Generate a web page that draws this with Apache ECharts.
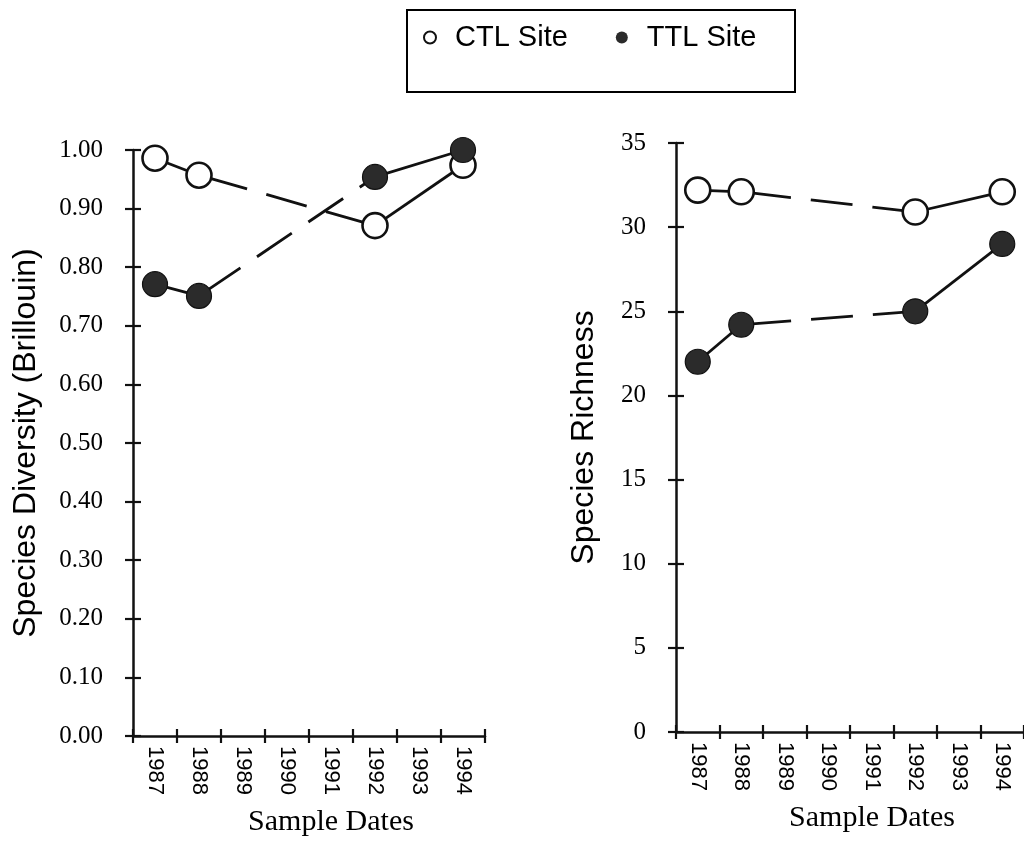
<!DOCTYPE html>
<html>
<head>
<meta charset="utf-8">
<script src="https://cdn.jsdelivr.net/npm/echarts@6/dist/echarts.min.js"></script>
<style>
html,body{margin:0;padding:0;background:#fff;}
#chart{width:1024px;height:844px;}
</style>
</head>
<body>
<div id="chart"></div>
<script>
// ---- data ----
const years = ['1987', '1988', '1989', '1990', '1991', '1992', '1993', '1994'];
const ctlDiversity = [0.986, 0.957, null, null, null, 0.871, null, 0.974];
const ttlDiversity = [0.771, 0.751, null, null, null, 0.954, null, 1.000];
const ctlRichness = [32.2, 32.1, null, null, null, 30.9, null, 32.1];
const ttlRichness = [22.0, 24.2, null, null, null, 25.0, null, 29.0];
const siteNames = ['CTL Site', 'TTL Site'];
const panelTitles = ['Species Diversity (Brillouin)', 'Species Richness'];
const xTitle = 'Sample Dates';

// segments: [fromIndex, toIndex, dashed]
const segments = [[0, 1, false], [1, 5, true], [5, 7, false]];

const INK = '#111';
const FILL = '#2b2b2b';

function seg(arr, a, b) {
  return arr.map((v, i) => (i === a || i === b) ? v : null);
}

function siteSeries(arr, name, open, axisIdx, z) {
  const out = [];
  segments.forEach(([a, b, dashed]) => {
    out.push({
      type: 'line', name: name + ' line', xAxisIndex: axisIdx, yAxisIndex: axisIdx,
      data: seg(arr, a, b), connectNulls: true, symbol: 'none', silent: true,
      lineStyle: { color: INK, width: 2.8, type: dashed ? [42, 20] : 'solid', dashOffset: dashed ? -8 : 0 },
      z: 2
    });
  });
  out.push({
    type: 'line', name: name, xAxisIndex: axisIdx, yAxisIndex: axisIdx,
    data: arr, connectNulls: false, symbol: 'circle', symbolSize: 25, showAllSymbol: true,
    lineStyle: { width: 0, opacity: 0 },
    itemStyle: open ? { color: '#fff', borderColor: INK, borderWidth: 2.6, opacity: 1 }
                    : { color: FILL, borderColor: INK, borderWidth: 1.2, opacity: 1 },
    z: z
  });
  return out;
}

const grids = [
  { left: 133, top: 150, width: 352, height: 586 },
  { left: 676, top: 143, width: 358, height: 589 }
];

function xAx(gridIndex, inside) {
  return {
    type: 'category', data: years, gridIndex: gridIndex, boundaryGap: true, position: 'bottom',
    axisLine: { show: !inside, onZero: false, lineStyle: { color: INK, width: 2.5 } },
    axisTick: { show: true, inside: inside, length: 7, interval: 0, lineStyle: { color: INK, width: 2.2 } },
    axisLabel: inside ? { show: false } : {
      show: true, interval: 0, rotate: -90, margin: 10, color: '#000',
      fontFamily: 'Liberation Sans', fontSize: 22
    },
    splitLine: { show: false },
    name: inside ? '' : xTitle, nameLocation: 'middle', nameGap: 71,
    nameTextStyle: { fontFamily: 'Liberation Serif', fontSize: 30, color: '#000', verticalAlign: 'top', padding: [0, 0, 0, 44] }
  };
}

function yAx(gridIndex, inside, max, interval, fmt, title, nameGap) {
  return {
    type: 'value', gridIndex: gridIndex, min: 0, max: max, interval: interval, position: 'left',
    axisLine: { show: !inside, onZero: false, lineStyle: { color: INK, width: 2.5 } },
    axisTick: { show: true, inside: inside, length: 8, lineStyle: { color: INK, width: 2.2 } },
    axisLabel: inside ? { show: false } : {
      show: true, margin: 30, color: '#000', fontFamily: 'Liberation Serif', fontSize: 25, formatter: fmt
    },
    splitLine: { show: false },
    name: inside ? '' : title, nameLocation: 'middle', nameGap: nameGap,
    nameTextStyle: { fontFamily: 'Liberation Sans', fontSize: 32, color: '#000' }
  };
}

const option = {
  animation: false,
  backgroundColor: '#fff',
  grid: grids,
  xAxis: [xAx(0, false), xAx(1, false), xAx(0, true), xAx(1, true)],
  yAxis: [
    yAx(0, false, 1, 0.1, v => v.toFixed(2), panelTitles[0], 91),
    yAx(1, false, 35, 5, v => String(v), panelTitles[1], 76),
    yAx(0, true, 1, 0.1, v => v.toFixed(2), '', 0),
    yAx(1, true, 35, 5, v => String(v), '', 0)
  ],
  legend: {
    data: [
      { name: siteNames[0], icon: 'circle', itemStyle: { color: '#fff', borderColor: INK, borderWidth: 2 } },
      { name: siteNames[1], icon: 'circle', itemStyle: { color: FILL, borderColor: INK, borderWidth: 0 } }
    ],
    left: 423, top: 23, padding: 0, itemWidth: 12, itemHeight: 12, itemGap: 48, selectedMode: false,
    textStyle: { fontFamily: 'Liberation Sans', fontSize: 29, color: '#000', padding: [0, 0, 0, 14] }
  },
  graphic: [{
    type: 'rect', shape: { x: 407, y: 10, width: 388, height: 82 },
    style: { fill: 'none', stroke: '#000', lineWidth: 2 }, z: 10
  }],
  series: [
    ...siteSeries(ctlDiversity, siteNames[0], true, 0, 5),
    ...siteSeries(ttlDiversity, siteNames[1], false, 0, 6),
    ...siteSeries(ctlRichness, siteNames[0], true, 1, 5),
    ...siteSeries(ttlRichness, siteNames[1], false, 1, 6)
  ]
};

const chart = echarts.init(document.getElementById('chart'), null, { renderer: 'canvas' });
chart.setOption(option);
</script>
</body>
</html>
